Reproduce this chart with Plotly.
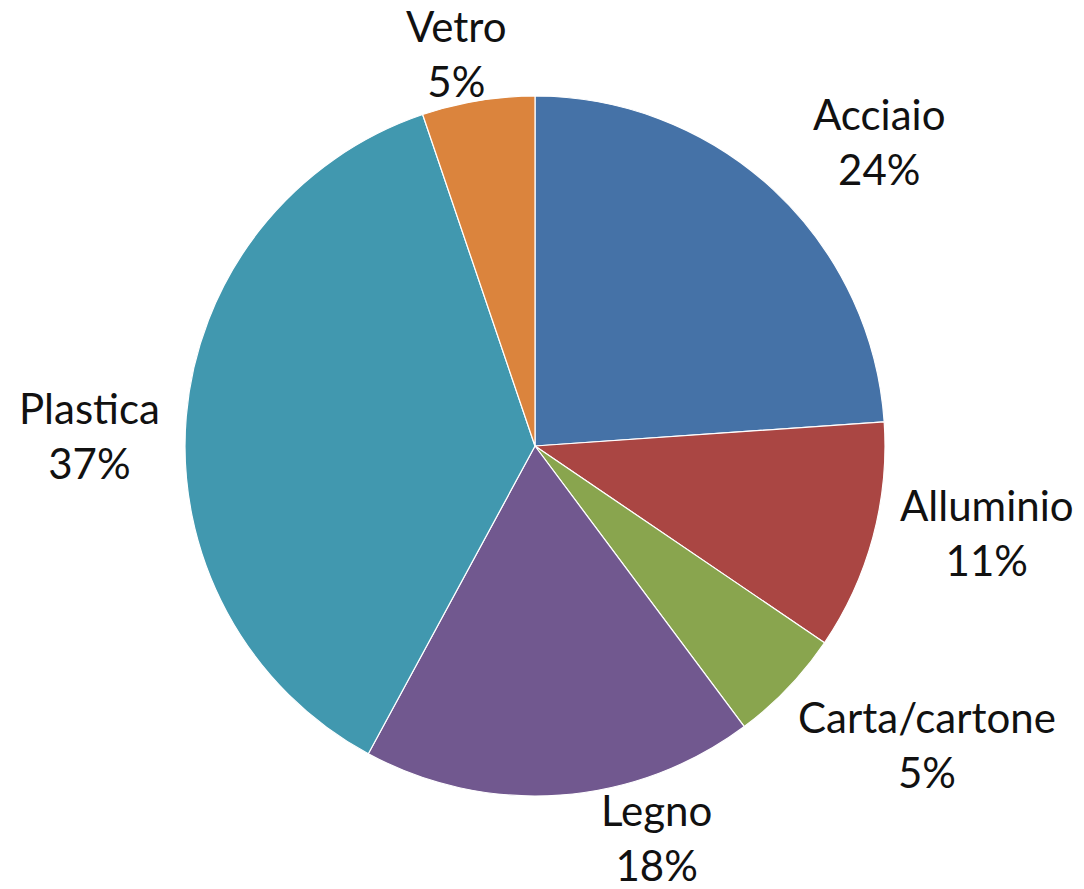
import math
import plotly.graph_objects as go

labels = ["Acciaio", "Alluminio", "Carta/cartone", "Legno", "Plastica", "Vetro"]
values = [23.9, 10.6, 5.3, 18.1, 36.9, 5.2]
colors = ["#4572A7", "#AA4643", "#89A54E", "#71588F", "#4198AF", "#DB843D"]

# layout of the pie (pixels in the 1084x889 page)
W, H = 1084, 889
CX, CY, R = 535, 446, 350
# label placement ("best fit" style): angular nudge from slice mid-angle (deg) and distance from centre (px)
label_nudge = [5.5, -4.3, -6.5, -13.1, -3.5, -1.9]
label_dist = [459, 460, 493, 410, 446, 400]

fig = go.Figure(go.Pie(
    labels=labels,
    values=values,
    sort=False,
    direction="clockwise",
    rotation=0,
    marker=dict(colors=colors, line=dict(color="white", width=1.2)),
    textinfo="none",
    showlegend=False,
    domain=dict(x=[(CX - R) / W, (CX + R) / W], y=[(H - CY - R) / H, (H - CY + R) / H]),
    hoverinfo="label+percent",
))

total = sum(values)
cum = 0.0
annotations = []
for lab, v, nud, dist in zip(labels, values, label_nudge, label_dist):
    mid = (cum + v / 2) / total * 360.0
    cum += v
    a = math.radians(mid + nud)
    px = CX + dist * math.sin(a)
    py = CY - dist * math.cos(a)
    pct = round(v / total * 100)
    annotations.append(dict(
        x=px / W, y=1 - py / H, xref="paper", yref="paper",
        text=f"{lab}<br>{pct}%", showarrow=False,
        xanchor="center", yanchor="middle", align="center",
        font=dict(family="Lato", size=42, color="#111111"),
    ))

fig.update_layout(
    width=W, height=H,
    margin=dict(l=0, r=0, t=0, b=0),
    paper_bgcolor="white",
    plot_bgcolor="white",
    annotations=annotations,
)

fig.write_html("out.html", config={"displayModeBar": False},
               post_script="document.body.style.margin='0';")
